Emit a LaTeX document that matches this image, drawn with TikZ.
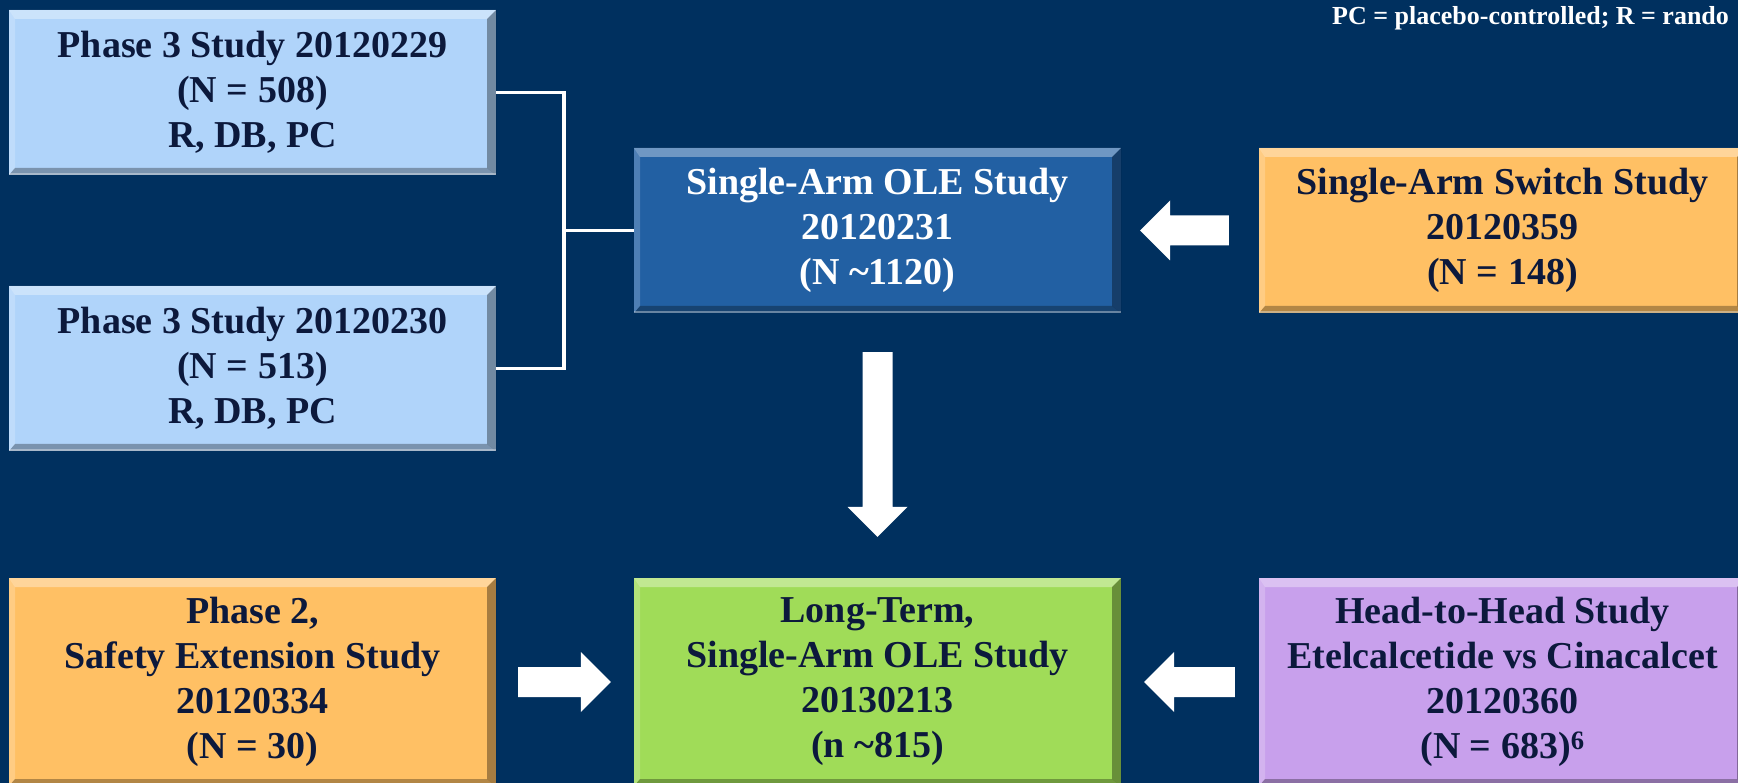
\documentclass[tikz,border=0pt]{standalone}
\usepackage{fontspec}
\setmainfont{Liberation Serif}
\usetikzlibrary{calc}
\definecolor{bgblue}{HTML}{00305F}
\definecolor{navytext}{HTML}{0C193C}
\definecolor{lightblue}{HTML}{B0D4FA}
\definecolor{oleblue}{HTML}{2260A3}
\definecolor{orangebox}{HTML}{FFC064}
\definecolor{greenbox}{HTML}{A0DC58}
\definecolor{purplebox}{HTML}{C8A0EC}
\newcommand\boxfont{\fontsize{38}{45}\selectfont\bfseries}
\newcommand{\blockarrow}[2]{%
  \coordinate (ba-hb) at ($(#2)!30pt!(#1)$);
  \fill[white] ($(#1)!15pt!90:(#2)$) -- ($(ba-hb)!15pt!90:(#2)$) -- ($(ba-hb)!30pt!90:(#2)$) -- (#2)
    -- ($(ba-hb)!30pt!-90:(#2)$) -- ($(ba-hb)!15pt!-90:(#2)$) -- ($(#1)!15pt!-90:(#2)$) -- cycle;}
\tikzset{
  bevel/.style={path picture={
    \fill[white,opacity=0.35] (path picture bounding box.north west) -- (path picture bounding box.north east)
      -- ([shift={(-9pt,-9pt)}]path picture bounding box.north east) -- ([shift={(6pt,-9pt)}]path picture bounding box.north west) -- cycle;
    \fill[white,opacity=0.2] (path picture bounding box.north west) -- ([shift={(6pt,-9pt)}]path picture bounding box.north west)
      -- ([shift={(6pt,7pt)}]path picture bounding box.south west) -- (path picture bounding box.south west) -- cycle;
    \fill[black,opacity=0.35] (path picture bounding box.north east) -- (path picture bounding box.south east)
      -- ([shift={(-9pt,7pt)}]path picture bounding box.south east) -- ([shift={(-9pt,-9pt)}]path picture bounding box.north east) -- cycle;
    \fill[black,opacity=0.3] (path picture bounding box.south west) -- (path picture bounding box.south east)
      -- ([shift={(-9pt,7pt)}]path picture bounding box.south east) -- ([shift={(6pt,7pt)}]path picture bounding box.south west) -- cycle;
    \fill[white,opacity=0.35] (path picture bounding box.south west) rectangle ([shift={(0pt,2pt)}]path picture bounding box.south east);
  }},
  studybox/.style={minimum width=487pt, minimum height=165pt, inner sep=0pt, align=center,
    font=\boxfont, text=navytext, bevel},
  tallbox/.style={studybox, minimum height=208pt},
  conn/.style={draw=white, line width=3.5pt},
}
\begin{document}
\begin{tikzpicture}[x=1pt,y=-1pt]
  \useasboundingbox (0,0) rectangle (1738,783);
  \fill[bgblue] (0,0) rectangle (1738,783);
  \clip (0,0) rectangle (1738,783);

  \node[anchor=base west, text=white, font=\fontsize{26}{30}\selectfont\bfseries, inner sep=0pt]
    (legend) at (1332,25) {PC = placebo-controlled; R = rando};

  \node[studybox, fill=lightblue] (p3a) at (252.5,92.5) {Phase 3 Study 20120229\\(N = 508)\\R, DB, PC};
  \node[studybox, fill=lightblue] (p3b) at (252.5,368.5) {Phase 3 Study 20120230\\(N = 513)\\R, DB, PC};
  \node[studybox, fill=oleblue, text=white] (ole) at (877.5,230.5) {Single-Arm OLE Study\\20120231\\(N \textasciitilde1120)};
  \node[studybox, fill=orangebox] (sw) at (1502.5,230.5) {Single-Arm Switch Study\\20120359\\(N = 148)};

  \node[tallbox, fill=orangebox] (p2) at (252.5,682) {Phase 2,\\Safety Extension Study\\20120334\\(N = 30)};
  \node[tallbox, fill=greenbox] (lt) at (877.5,682) {Long-Term,\\Single-Arm OLE Study\\20130213\\(n \textasciitilde815)};
  \node[tallbox, fill=purplebox] (hh) at (1502.5,682) {Head-to-Head Study\\Etelcalcetide vs Cinacalcet\\20120360\\(N = 683)\textsuperscript{6}};

  % bracket connector
  \coordinate (j) at (564,230.5);
  \draw[conn] (p3a.east) -| (j) |- (p3b.east);
  \draw[conn] (j) -- (ole.west);

  % block arrows
  \coordinate (a1t) at ([xshift=-30pt]sw.west);
  \coordinate (a1h) at ([xshift=19pt]ole.east);
  \blockarrow{a1t}{a1h}
  \coordinate (a2t) at ([yshift=-39pt]ole.south);
  \coordinate (a2h) at ([yshift=41pt]lt.north);
  \blockarrow{a2t}{a2h}
  \coordinate (a3t) at ([xshift=22pt]p2.east);
  \coordinate (a3h) at ([xshift=-23pt]lt.west);
  \blockarrow{a3t}{a3h}
  \coordinate (a4t) at ([xshift=-24pt]hh.west);
  \coordinate (a4h) at ([xshift=23pt]lt.east);
  \blockarrow{a4t}{a4h}
\end{tikzpicture}
\end{document}
